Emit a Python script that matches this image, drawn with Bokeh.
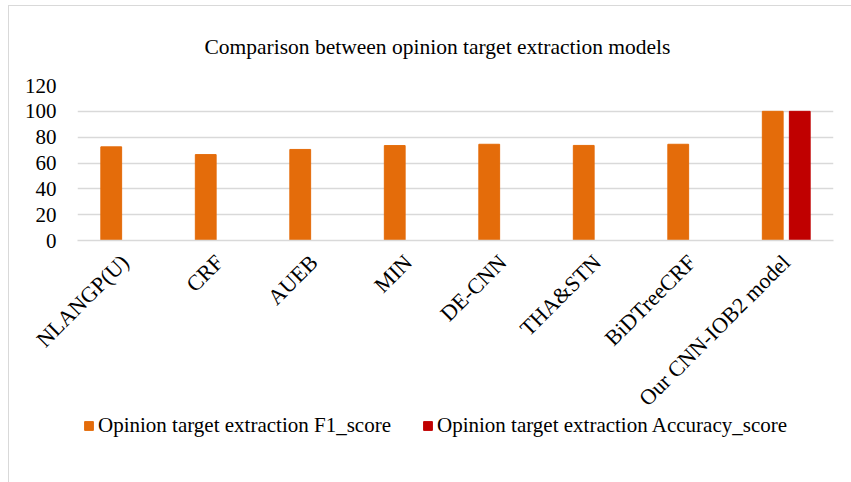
from bokeh.plotting import figure
from bokeh.layouts import column
from bokeh.models import ColumnDataSource, Legend, LegendItem, FixedTicker
from bokeh.transform import dodge
from bokeh.embed import file_html
from bokeh.resources import INLINE
import math

categories = ["NLANGP(U)", "CRF", "AUEB", "MIN", "DE-CNN", "THA&STN", "BiDTreeCRF", "Our CNN-IOB2 model"]
f1_scores = [72.5, 66.5, 70.5, 73.5, 74.5, 73.6, 74.5, 100]
acc_categories = ["Our CNN-IOB2 model"]
acc_scores = [100]
y_ticks = [0, 20, 40, 60, 80, 100, 120]
series_names = ["Opinion target extraction F1_score", "Opinion target extraction Accuracy_score"]

FONT = "Liberation Serif"
ORANGE = "#E46C0A"
RED = "#C00000"
GRID = "#D9D9D9"

src_f1 = ColumnDataSource(dict(cat=categories, val=f1_scores))
src_acc = ColumnDataSource(dict(cat=acc_categories, val=acc_scores))

p = figure(width=842, height=416, x_range=categories, y_range=(0, 120),
           output_backend="svg", toolbar_location=None,
           min_border_left=68, min_border_right=18, min_border_top=77, min_border_bottom=181)

p.vbar(x=dodge("cat", -0.143, range=p.x_range), top="val", width=0.22,
       source=src_f1, fill_color=ORANGE, line_color=ORANGE)
p.vbar(x=dodge("cat", 0.143, range=p.x_range), top="val", width=0.22,
       source=src_acc, fill_color=RED, line_color=RED)

p.title.text = "Comparison between opinion target extraction models"
p.title.align = "left"
p.title.offset = 127
p.title.text_font = FONT
p.title.text_font_size = "21.5px"
p.title.text_font_style = "normal"
p.title.text_color = "#000000"
p.title.standoff = 53

p.outline_line_color = None
p.xgrid.grid_line_color = None
p.ygrid.grid_line_color = GRID
p.ygrid.grid_line_width = 1.5
p.yaxis.ticker = FixedTicker(ticks=y_ticks)

for ax in (p.xaxis, p.yaxis):
    ax.axis_line_color = None
    ax.major_tick_line_color = None
    ax.minor_tick_line_color = None
    ax.major_label_text_font = FONT
    ax.major_label_text_color = "#000000"
p.xaxis.major_label_text_font_size = "22px"
p.yaxis.major_label_text_font_size = "21px"
p.xaxis.axis_line_color = GRID
p.xaxis.axis_line_width = 1.5
p.xaxis.major_label_orientation = math.pi / 4
p.xaxis.major_label_standoff = 12
p.yaxis.major_label_standoff = 15

# legend strip below the chart (same data, drawn out of view so only the legend shows)
q = figure(width=842, height=74, x_range=categories, y_range=(500, 600),
           x_axis_type=None, y_axis_type=None,
           output_backend="svg", toolbar_location=None,
           min_border_left=0, min_border_right=0, min_border_top=0, min_border_bottom=0)
q.styles = {"margin-top": "-14px"}
q.outline_line_color = None
q.xgrid.grid_line_color = None
q.ygrid.grid_line_color = None
k1 = q.vbar(x="cat", top="val", width=0.22, source=src_f1,
            fill_color=ORANGE, line_color=ORANGE)
k2 = q.vbar(x="cat", top="val", width=0.22, source=src_acc,
            fill_color=RED, line_color=RED)

legend = Legend(items=[
    LegendItem(label=series_names[0], renderers=[k1]),
    LegendItem(label=series_names[1], renderers=[k2]),
], location=(6, 44), orientation="horizontal")
legend.label_text_font = FONT
legend.label_text_font_size = "21px"
legend.label_text_color = "#000000"
legend.glyph_width = 11
legend.glyph_height = 11
legend.label_standoff = 4
legend.spacing = 31
legend.padding = 0
legend.margin = 0
legend.border_line_color = None
legend.background_fill_alpha = 0
q.add_layout(legend, "center")

layout = column(p, q, spacing=0)
layout.styles = {"border-top": "1px solid #D9D9D9", "border-left": "1px solid #D9D9D9",
                 "margin-left": "8px", "margin-top": "5px"}

open("out.html", "w").write(file_html(layout, INLINE))
